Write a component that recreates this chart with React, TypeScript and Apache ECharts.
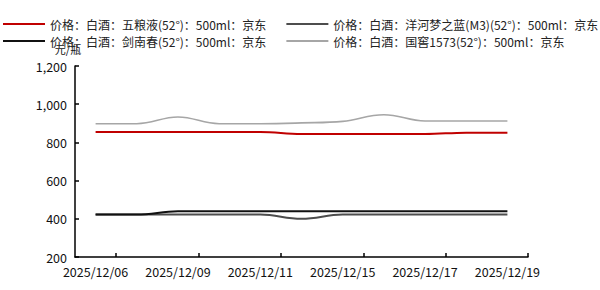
import React, { useEffect, useRef } from "react";
import * as echarts from "echarts";

const dates = [
  "2025/12/06", "2025/12/08", "2025/12/09", "2025/12/10", "2025/12/11", "2025/12/12",
  "2025/12/15", "2025/12/16", "2025/12/17", "2025/12/18", "2025/12/19",
];
const wuliangye = [854, 854, 854, 854, 854, 844, 844, 844, 844, 851, 851];
const yanghe = [422, 422, 422, 422, 422, 400, 422, 422, 422, 422, 422];
const jiannanchun = [422, 422, 439, 439, 439, 439, 439, 439, 439, 439, 439];
const guojiao = [898, 898, 933, 898, 898, 902, 910, 945, 912, 912, 912];

const names = [
  "价格：白酒：五粮液(52°)：500ml：京东",
  "价格：白酒：洋河梦之蓝(M3)(52°)：500ml：京东",
  "价格：白酒：剑南春(52°)：500ml：京东",
  "价格：白酒：国窖1573(52°)：500ml：京东",
];
const colors = ["#c00000", "#4d4d4d", "#111111", "#a6a6a6"];
const yTicks = { min: 200, max: 1200, interval: 200 };
const yName = "元/瓶";

const FONT = "Noto Sans CJK SC";

export default function App() {
  const ref = useRef<HTMLDivElement>(null);
  useEffect(() => {
    if (!ref.current) return;
    const chart = echarts.init(ref.current, undefined, { renderer: "svg" });
    const legendCommon = {
      left: 3,
      width: 1200,
      orient: "horizontal",
      icon: "rect",
      itemWidth: 42,
      itemHeight: 2,
      itemGap: 20,
      padding: 0,
      textStyle: { fontFamily: FONT, fontSize: 12, color: "#222" },
    };
    const series = [wuliangye, yanghe, jiannanchun, guojiao].map((d, i) => ({
      name: names[i],
      type: "line",
      data: d,
      smooth: 0.4,
      symbol: "none",
      lineStyle: { color: colors[i], width: i === 3 ? 1.6 : 2 },
      itemStyle: { color: colors[i] },
    }));
    chart.setOption({
      animation: false,
      backgroundColor: "#ffffff",
      legend: [
        { ...legendCommon, top: 18, data: [names[0], names[1]] },
        { ...legendCommon, top: 35, data: [names[2], names[3]] },
      ],
      grid: { left: 75, right: 72, top: 66, bottom: 33, containLabel: false },
      xAxis: {
        type: "category",
        data: dates,
        boundaryGap: true,
        axisLine: { show: true, lineStyle: { color: "#000", width: 1.5 } },
        axisTick: {
          show: true,
          inside: true,
          length: 4,
          interval: (index: number) => index % 2 === 1,
          lineStyle: { color: "#000", width: 1.5 },
        },
        axisLabel: {
          interval: 1,
          margin: 8,
          fontFamily: FONT,
          fontSize: 12.5,
          color: "#111",
        },
        splitLine: { show: false },
      },
      yAxis: {
        type: "value",
        min: yTicks.min,
        max: yTicks.max,
        interval: yTicks.interval,
        name: yName,
        nameLocation: "end",
        nameGap: 12,
        nameTextStyle: {
          fontFamily: FONT,
          fontSize: 11,
          color: "#111",
          padding: [0, 14, 0, 0],
        },
        axisLine: { show: true, lineStyle: { color: "#000", width: 1.5 } },
        axisTick: { show: true, inside: true, length: 4, lineStyle: { color: "#000", width: 1.5 } },
        axisLabel: {
          margin: 8,
          fontFamily: FONT,
          fontSize: 12.5,
          color: "#111",
          formatter: (v: number) => v.toLocaleString("en-US"),
        },
        splitLine: { show: false },
      },
      series,
    });
    return () => chart.dispose();
  }, []);
  return (
    <div
      ref={ref}
      style={{ position: "absolute", left: 0, top: 0, width: 600, height: 290 }}
    />
  );
}
